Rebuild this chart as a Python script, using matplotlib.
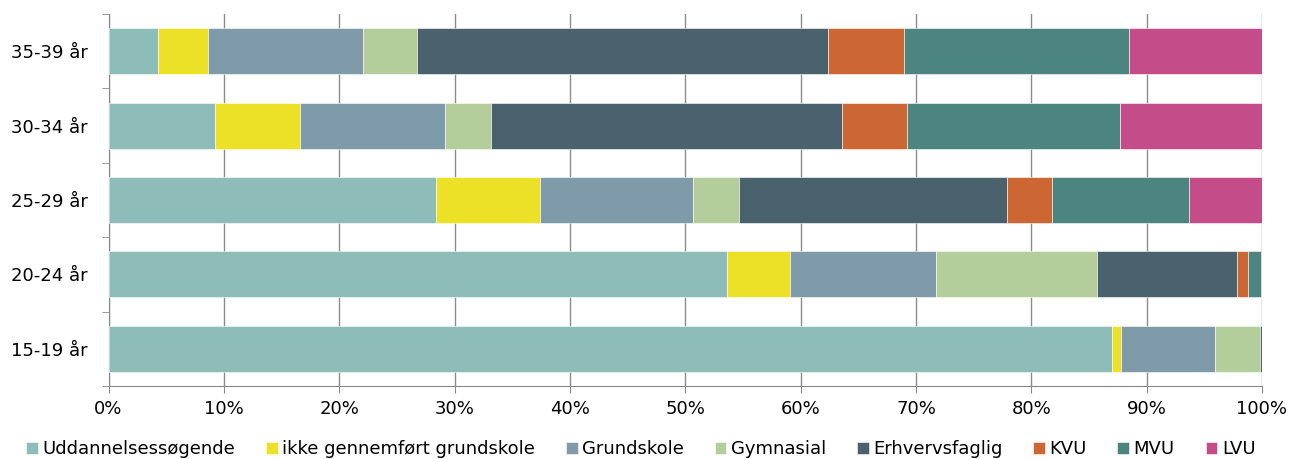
import numpy as np
import matplotlib
matplotlib.use("Agg")
import matplotlib.pyplot as plt

# --- data (share of each age group, %) ---
age_groups = ["15-19 år", "20-24 år", "25-29 år", "30-34 år", "35-39 år"]
series_names = ["Uddannelsessøgende", "ikke gennemført grundskole", "Grundskole",
                "Gymnasial", "Erhvervsfaglig", "KVU", "MVU", "LVU"]

uddannelsessoegende = [87.0, 53.6, 28.4, 9.2, 4.25]
ikke_gennemfoert = [0.8, 5.5, 9.0, 7.4, 4.4]
grundskole = [8.1, 12.6, 13.3, 12.6, 13.4]
gymnasial = [3.9, 14.0, 4.0, 4.0, 4.7]
erhvervsfaglig = [0.2, 12.1, 23.2, 30.4, 35.6]
kvu = [0.0, 1.0, 3.9, 5.6, 6.6]
mvu = [0.0, 1.1, 11.9, 18.5, 19.5]
lvu = [0.0, 0.1, 6.3, 12.3, 11.55]

colors = ["#8DBCB9", "#EDE128", "#7F9AA8", "#B3CE9A",
          "#4A626E", "#CC6733", "#4C8580", "#C34C89"]

series = [uddannelsessoegende, ikke_gennemfoert, grundskole, gymnasial,
          erhvervsfaglig, kvu, mvu, lvu]

# --- plot ---
fs = 13
fig = plt.figure(figsize=(12.92, 4.59), dpi=100)
ax = fig.add_axes([108.5 / 1292, 73 / 459, (1262 - 108.5) / 1292, (386 - 14) / 459])

y = np.arange(len(age_groups))
left = np.zeros(len(age_groups))
for name, vals, color in zip(series_names, series, colors):
    vals = np.array(vals)
    ax.barh(y, vals, left=left, height=0.62, color=color, label=name,
            edgecolor="white", linewidth=0.4, zorder=3)
    left += vals

ax.set_xlim(0, 100)
ax.set_ylim(-0.5, len(age_groups) - 0.5)
ax.set_xticks(np.arange(0, 101, 10))
ax.set_xticklabels([f"{v}%" for v in range(0, 101, 10)], fontsize=fs)
ax.set_yticks(y)
ax.set_yticklabels(age_groups, fontsize=fs)
ax.set_yticks(np.arange(-0.5, len(age_groups), 1), minor=True)
ax.tick_params(axis="y", which="major", length=0, pad=15)
ax.tick_params(axis="y", which="minor", length=5, color="#888888")
ax.tick_params(axis="x", length=5, color="#888888", pad=5)

ax.grid(axis="x", color="#8c8c8c", linewidth=1.0, zorder=0)
for s in ["top", "right"]:
    ax.spines[s].set_visible(False)
for s in ["left", "bottom"]:
    ax.spines[s].set_color("#888888")

fig.legend(loc="center", bbox_to_anchor=(0.496, 0.022), ncol=8, frameon=False,
           fontsize=fs, handlelength=0.65, handleheight=0.65, handletextpad=0.25,
           columnspacing=1.7, borderaxespad=0)

fig.savefig("out.png", dpi=100)
